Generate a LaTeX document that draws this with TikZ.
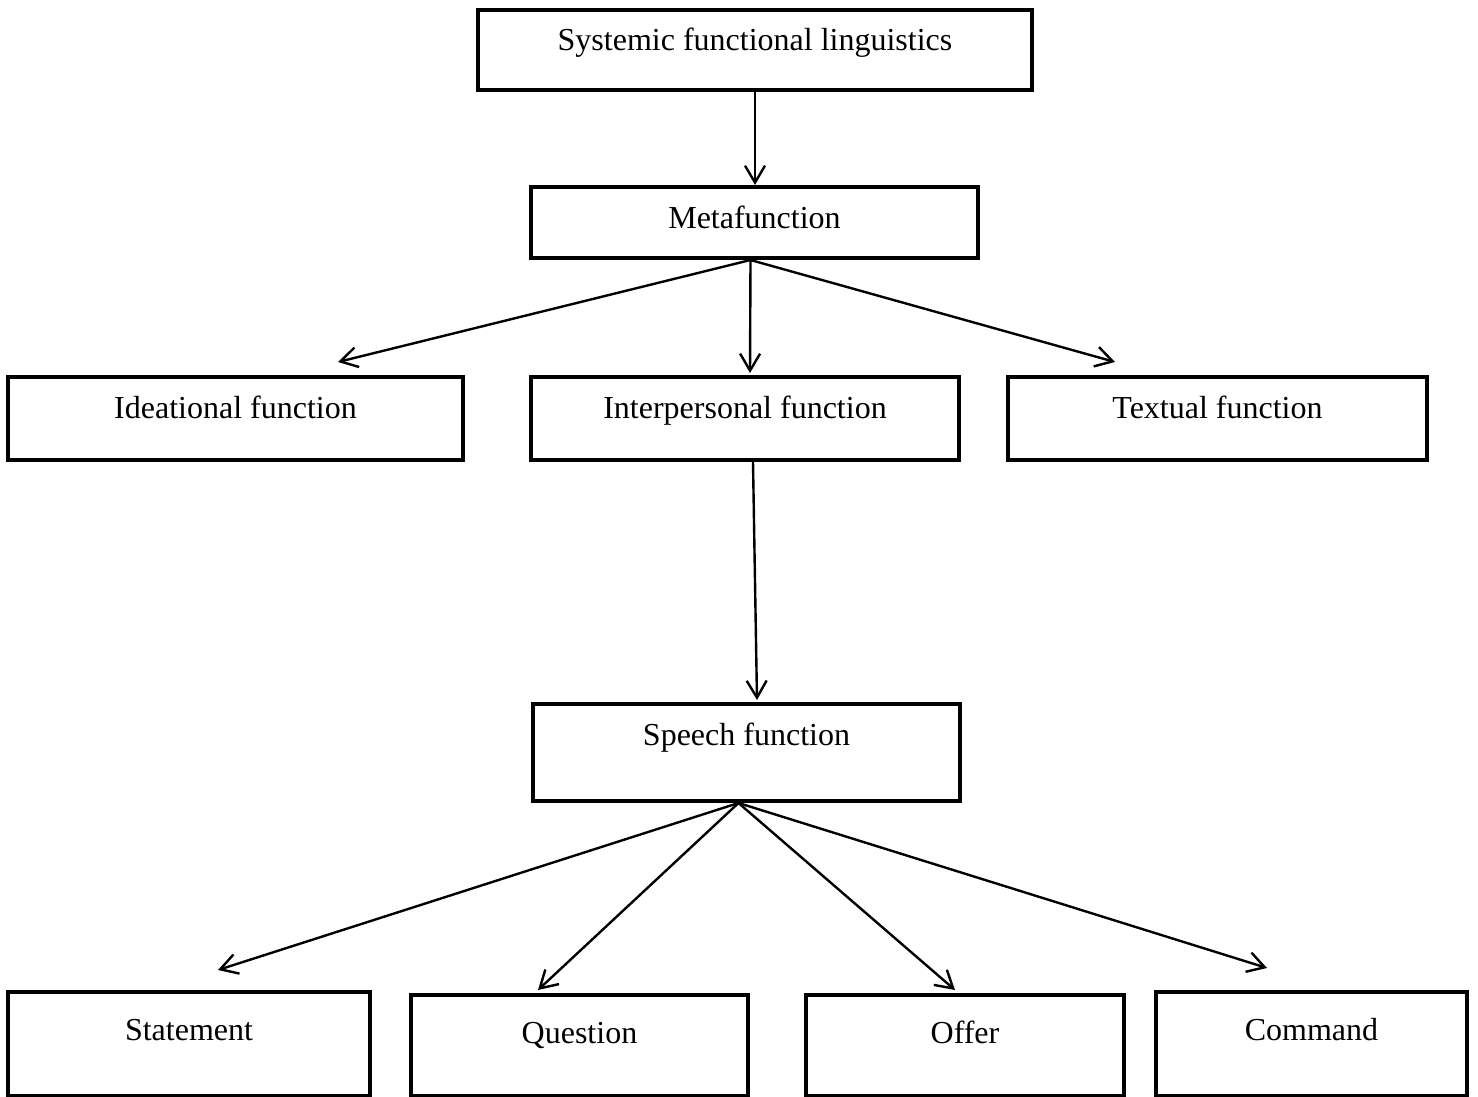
\documentclass[tikz,border=0pt]{standalone}
\usepackage{fontspec}
\setmainfont{Liberation Serif}
\usetikzlibrary{arrows.meta}

\begin{document}
\begin{tikzpicture}[x=0.5pt, y=-0.5pt, line width=1.2pt,
        box/.style={draw, line width=2pt, inner sep=0pt, anchor=north, text height=20.5pt},
        low/.style={box, text height=24pt},
        link/.style={-{Straight Barb[length=8.5pt, width=10pt]}},
        font=\fontsize{16}{19}\selectfont]
            \useasboundingbox (0,0) rectangle (1478,1097);

            % Kaesten.
            \node[box, minimum width=277pt, text depth=19.5pt] (sys) at (755,8) {Systemic functional linguistics};
            \node[box, minimum width=223.5pt, text depth=15pt] (meta) at (754.5,185) {Metafunction};

            \node[box, minimum width=227.5pt, text depth=21pt] (idea) at (235.5,375) {Ideational function};
            \node[box, minimum width=214pt, text depth=21pt] (inter) at (745,375) {Interpersonal function};
            \node[box, minimum width=209.5pt, text depth=21pt] (textual) at (1217.5,375) {Textual function};

            \node[box, minimum width=213.5pt, text depth=28pt] (speech) at (746.5,702) {Speech function};

            \node[low, minimum width=181pt, text depth=28pt] (statement) at (189,990) {Statement};
            \node[low, minimum width=168.5pt, text depth=26.5pt] (question) at (579.5,993) {Question};
            \node[low, minimum width=159pt, text depth=26.5pt] (offer) at (965,993) {Offer};
            \node[low, minimum width=155.5pt, text depth=28pt] (command) at (1311.5,990) {Command};

            % Pfeilspitzen.
            \coordinate (toidea) at (338,362);
            \coordinate (tointer) at (750,373);
            \coordinate (totextual) at (1115,362);
            \coordinate (tospeech) at (757,700);
            \coordinate (tostatement) at (218,970);
            \coordinate (toquestion) at (538,990);
            \coordinate (tooffer) at (955,990);
            \coordinate (tocommand) at (1267,968);

            % Pfeile.
            \draw[link] (sys.south) -- (sys.south |- meta.north);

            \draw[link] ([xshift=-2pt]meta.south) -- (toidea);
            \draw[link] ([xshift=-2pt]meta.south) -- (tointer);
            \draw[link] ([xshift=-2pt]meta.south) -- (totextual);

            \draw[link] ([xshift=4pt]inter.south) -- (tospeech);

            \draw[link] ([xshift=-4pt]speech.south) -- (tostatement);
            \draw[link] ([xshift=-4pt]speech.south) -- (toquestion);
            \draw[link] ([xshift=-4pt]speech.south) -- (tooffer);
            \draw[link] ([xshift=-4pt]speech.south) -- (tocommand);
        \end{tikzpicture}
\end{document}
